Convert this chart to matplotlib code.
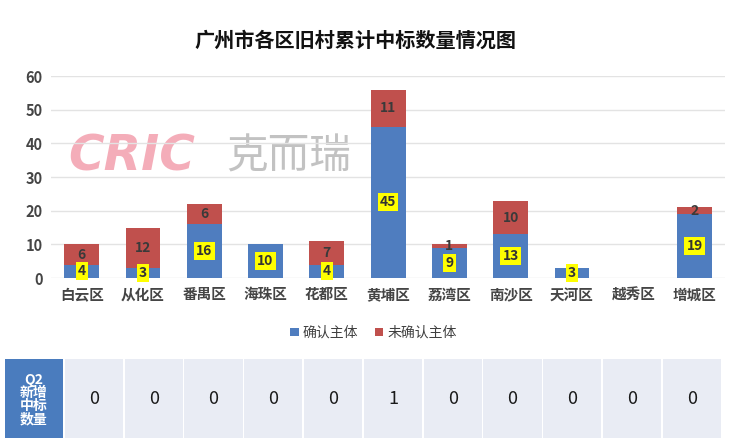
import matplotlib
matplotlib.use("Agg")
import matplotlib.pyplot as plt
from matplotlib.patches import Rectangle

plt.rcParams['font.family'] = ['Noto Sans CJK SC', 'DejaVu Sans']

districts = ['白云区', '从化区', '番禺区', '海珠区', '花都区', '黄埔区',
             '荔湾区', '南沙区', '天河区', '越秀区', '增城区']
confirmed = [4, 3, 16, 10, 4, 45, 9, 13, 3, 0, 19]
unconfirmed = [6, 12, 6, 0, 7, 11, 1, 10, 0, 0, 2]
q2_new = [0, 0, 0, 0, 0, 1, 0, 0, 0, 0, 0]

blue = '#4F7DBF'
red = '#C0504D'

fig = plt.figure(figsize=(7.4, 4.45), dpi=100)
ax = fig.add_axes([0.069, 0.375, 0.911, 0.454])

x = range(len(districts))
ax.bar(x, confirmed, width=0.57, color=blue, label='确认主体', zorder=2)
ax.bar(x, unconfirmed, width=0.57, bottom=confirmed, color=red, label='未确认主体', zorder=2)

# data labels: yellow boxes for confirmed, plain for unconfirmed
for i, (c, u) in enumerate(zip(confirmed, unconfirmed)):
    if c:
        ax.text(i, c / 2, str(c), ha='center', va='center', fontsize=10,
                fontweight='bold', color='#333333', zorder=4, linespacing=1.0,
                bbox=dict(boxstyle='square,pad=0.15', facecolor='#FFFF00', edgecolor='none'))
    if u:
        ax.text(i, c + u / 2, str(u), ha='center', va='center', fontsize=10,
                fontweight='bold', color='#3a3a3a', zorder=4)

ax.set_ylim(0, 60)
ax.set_xlim(-0.5, len(districts) - 0.5)
ax.set_yticks(range(0, 61, 10))
ax.set_xticks(list(x))
ax.set_xticklabels(districts)
ax.tick_params(axis='both', length=0, labelsize=10.5, colors='#454545', pad=6)
for lbl in ax.get_yticklabels() + ax.get_xticklabels():
    lbl.set_fontweight('bold')
ax.grid(axis='y', color='#E3E3E3', linewidth=1, zorder=0)
for s in ax.spines.values():
    s.set_visible(False)

# watermark
ax.text(0.025, 0.60, 'CRIC', transform=ax.transAxes, fontsize=35, fontweight='heavy',
        fontstyle='italic', color='#F08A9C', alpha=0.7, va='center', family='DejaVu Sans', zorder=1)
ax.text(0.26, 0.60, '克而瑞', transform=ax.transAxes, fontsize=30,
        color='#9A9A9A', alpha=0.6, va='center', zorder=1)

fig.text(0.48, 0.91, '广州市各区旧村累计中标数量情况图', ha='center', va='center',
         fontsize=14.5, fontweight='bold', color='#111111')

leg = fig.legend(loc='center', bbox_to_anchor=(0.505, 0.252), ncol=2, frameon=False,
                 fontsize=10, handlelength=0.6, handleheight=0.6, handletextpad=0.3,
                 columnspacing=1.2)
for t in leg.get_texts():
    t.set_color('#404040')

# table below chart, in pixel coordinates
tab = fig.add_axes([0, 0, 1, 1])
tab.set_xlim(0, 740)
tab.set_ylim(445, 0)
tab.axis('off')
tab.patch.set_alpha(0)
top, bottom = 359, 438
tab.add_patch(Rectangle((5, top), 58, bottom - top, facecolor='#4A7CBE', edgecolor='none'))
tab.text(34, (top + bottom) / 2 + 1, 'Q2\n新增\n中标\n数量', ha='center', va='center',
         color='white', fontsize=10, fontweight='bold', linespacing=0.92)
cell_w = 59.8
for i, v in enumerate(q2_new):
    x0 = 64 + i * cell_w
    tab.add_patch(Rectangle((x0 + 0.8, top), cell_w - 1.6, bottom - top,
                            facecolor='#E9ECF4', edgecolor='none'))
    tab.text(x0 + cell_w / 2, (top + bottom) / 2, str(v), ha='center', va='center',
             fontsize=13, color='#1a1a1a')

fig.savefig('out.png', dpi=100)
